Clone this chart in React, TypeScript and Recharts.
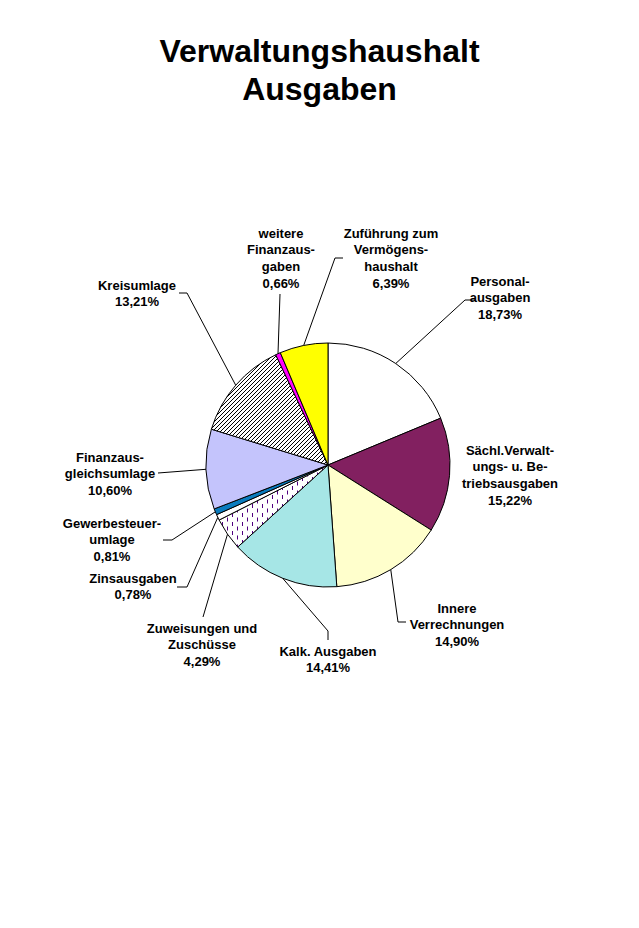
import React from 'react';
import { PieChart, Pie, Cell } from 'recharts';

const categories = [
  'Personalausgaben',
  'Sächl.Verwaltungs- u. Betriebsausgaben',
  'Innere Verrechnungen',
  'Kalk. Ausgaben',
  'Zuweisungen und Zuschüsse',
  'Zinsausgaben',
  'Gewerbesteuerumlage',
  'Finanzausgleichsumlage',
  'Kreisumlage',
  'weitere Finanzausgaben',
  'Zuführung zum Vermögenshaushalt',
];

const shares = [18.73, 15.22, 14.9, 14.41, 4.29, 0.78, 0.81, 10.6, 13.21, 0.66, 6.39];

const labelLines = [
  ['Personal-', 'ausgaben'],
  ['Sächl.Verwalt-', 'ungs- u. Be-', 'triebsausgaben'],
  ['Innere', 'Verrechnungen'],
  ['Kalk. Ausgaben'],
  ['Zuweisungen und', 'Zuschüsse'],
  ['Zinsausgaben'],
  ['Gewerbesteuer-', 'umlage'],
  ['Finanzaus-', 'gleichsumlage'],
  ['Kreisumlage'],
  ['weitere', 'Finanzaus-', 'gaben'],
  ['Zuführung zum', 'Vermögens-', 'haushalt'],
];

const titleLines = ['Verwaltungshaushalt', 'Ausgaben'];

const fills = [
  '#FFFFFF',
  '#822060',
  '#FFFFCC',
  '#A6E6E6',
  'url(#dashPattern)',
  '#FFFFFF',
  '#0A7CBE',
  '#C4C4FC',
  'url(#hatchPattern)',
  '#FF00FF',
  '#FFFF00',
];

// label layout: text centre offset from pie centre, leader elbow points (offsets)
const labelLayout: { dx: number; dy: number; leader: number[][] }[] = [
  { dx: 172, dy: -184, leader: [[137, -165], [147, -165]] },
  { dx: 182, dy: -15, leader: [] },
  { dx: 129, dy: 143, leader: [[70, 157], [78, 157]] },
  { dx: 0, dy: 186, leader: [[0, 166], [0, 175]] },
  { dx: -126, dy: 163, leader: [[-125, 152]] },
  { dx: -195, dy: 113, leader: [[-141, 122], [-151, 122]] },
  { dx: -216, dy: 58, leader: [[-156, 75], [-165, 75]] },
  { dx: -218, dy: -8, leader: [[-170, 8]] },
  { dx: -191, dy: -180, leader: [[-141, -172], [-149, -172]] },
  { dx: -47, dy: -232, leader: [[-48, -171]] },
  { dx: 63, dy: -232, leader: [[7, -207], [15, -207]] },
];

const data = categories.map((name, i) => ({ name, value: shares[i] }));

const LINE = 16.8;
const FONT = '"Liberation Sans", Arial, sans-serif';

const renderLabel = (props: any) => {
  const { cx, cy, midAngle, outerRadius, index } = props;
  const L = labelLayout[index];
  const rad = Math.PI / 180;
  const sx = cx + outerRadius * Math.cos(-midAngle * rad);
  const sy = cy + outerRadius * Math.sin(-midAngle * rad);
  const pts = [[sx, sy], ...L.leader.map(([dx, dy]) => [cx + dx, cy + dy])];
  const pct = shares[index].toFixed(2).replace('.', ',') + '%';
  const lines = [...labelLines[index], pct];
  const tx = cx + L.dx;
  return (
    <g key={'lbl' + index}>
      {L.leader.length > 0 && (
        <polyline
          points={pts.map((p) => p.join(',')).join(' ')}
          fill="none"
          stroke="#000"
          strokeWidth={1}
        />
      )}
      <text textAnchor="middle" fontFamily={FONT} fontWeight="bold" fontSize={13} fill="#000">
        {lines.map((t, i) => (
          <tspan key={i} x={tx} y={cy + L.dy + i * LINE + 4.6}>
            {t}
          </tspan>
        ))}
      </text>
    </g>
  );
};

export default function App() {
  return (
    <div style={{ position: 'absolute', left: 0, top: 0, width: 639, height: 928, background: '#fff' }}>
      <svg width={0} height={0} style={{ position: 'absolute' }}>
        <defs>
          <pattern id="hatchPattern" patternUnits="userSpaceOnUse" width={4} height={4}>
            <rect x={0} y={0} width={4} height={4} fill="#fff" />
            <path d="M-1,1 l2,-2 M0,4 l4,-4 M3,5 l2,-2" stroke="#000" strokeWidth={1} />
          </pattern>
          <pattern id="dashPattern" patternUnits="userSpaceOnUse" width={10} height={9}>
            <rect x={0} y={0} width={10} height={9} fill="#fff" />
            <rect x={2} y={0} width={1} height={4} fill="#500080" />
            <rect x={7} y={4.5} width={1} height={4} fill="#500080" />
          </pattern>
        </defs>
      </svg>
      <PieChart width={639} height={928} margin={{ top: 0, right: 0, bottom: 0, left: 0 }}>
        <Pie
          data={data}
          dataKey="value"
          nameKey="name"
          cx={328}
          cy={465}
          outerRadius={122}
          startAngle={90}
          endAngle={-270}
          stroke="#000"
          strokeWidth={1}
          isAnimationActive={false}
          labelLine={false}
          label={renderLabel}
        >
          {data.map((d, i) => (
            <Cell key={d.name} fill={fills[i]} />
          ))}
        </Pie>
      </PieChart>
      <svg width={639} height={120} style={{ position: 'absolute', left: 0, top: 0 }}>
        {titleLines.map((t, i) => (
          <text
            key={t}
            x={319.5}
            y={62 + i * 38}
            textAnchor="middle"
            fontFamily={FONT}
            fontWeight="bold"
            fontSize={32}
            fill="#000"
          >
            {t}
          </text>
        ))}
      </svg>
    </div>
  );
}
